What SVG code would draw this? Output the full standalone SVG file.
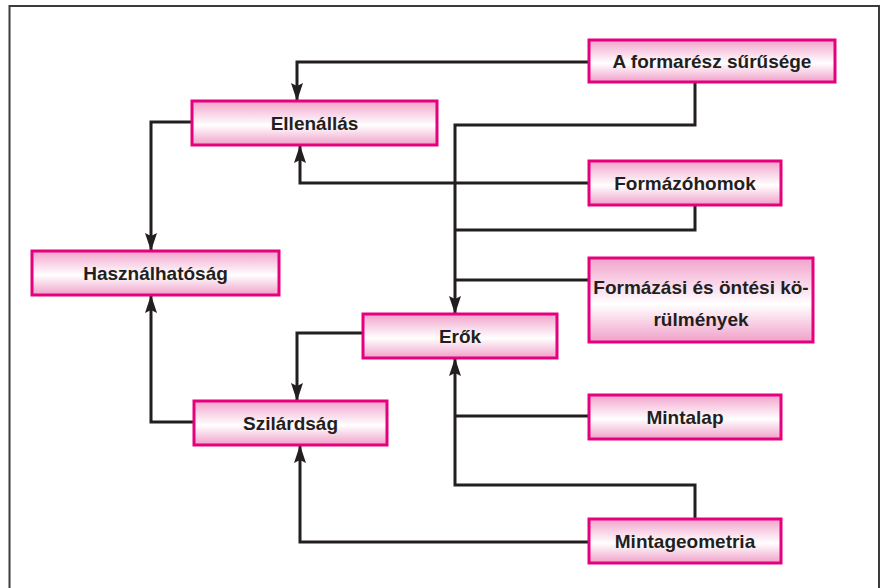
<svg xmlns="http://www.w3.org/2000/svg" width="880" height="588" viewBox="0 0 880 588">
<defs>
<linearGradient id="g" x1="0" y1="0" x2="0" y2="1">
<stop offset="0" stop-color="#f2a3cc"/>
<stop offset="0.55" stop-color="#ffffff"/>
<stop offset="1" stop-color="#f0a0c9"/>
</linearGradient>
<marker id="ar" markerUnits="userSpaceOnUse" markerWidth="20" markerHeight="14" viewBox="-19 -7 20 14" refX="0" refY="0" orient="auto">
<path d="M0,0 L-18,-6 L-15,0 L-18,6 Z" fill="#231f20"/>
</marker>
</defs>
<style>
.box{fill:url(#g);stroke:#e6007e;stroke-width:3}
.t{font-family:"Liberation Sans",Arial,sans-serif;font-weight:bold;font-size:19px;fill:#231f20;text-anchor:middle}
.c{fill:none;stroke:#231f20;stroke-width:3}
.a{marker-end:url(#ar)}
.fr{fill:none;stroke:#3c3c3c;stroke-width:2}
</style>
<path class="fr" d="M9.5,588 V6 H879 V588"/>
<g id="connectors">
<path class="c a" d="M589,62 H297 V101"/>
<path class="c a" d="M695,83 V125 H455 V314"/>
<path class="c a" d="M589,183 H300 V145"/>
<path class="c" d="M695,205 V230 H455"/>
<path class="c" d="M589,280 H455"/>
<path class="c a" d="M192,122 H151 V251"/>
<path class="c a" d="M194,422 H151 V295"/>
<path class="c a" d="M363,333 H297 V401"/>
<path class="c" d="M589,416 H455"/>
<path class="c a" d="M695,518 V485 H455 V358"/>
<path class="c a" d="M589,542 H300 V445"/>
</g>
<g id="n1"><rect class="box" x="589" y="40" width="246" height="42"/><text class="t" x="712" y="68">A formarész sűrűsége</text></g>
<g id="n2"><rect class="box" x="192" y="101" width="245" height="44"/><text class="t" x="314.5" y="130">Ellenállás</text></g>
<g id="n3"><rect class="box" x="589" y="161" width="192" height="44"/><text class="t" x="685" y="190">Formázóhomok</text></g>
<g id="n4"><rect class="box" x="589" y="258" width="224" height="84"/><text class="t" x="701" y="294">Formázási és öntési kö-</text><text class="t" x="701" y="326">rülmények</text></g>
<g id="n5"><rect class="box" x="32" y="251" width="247" height="44"/><text class="t" x="155.5" y="280">Használhatóság</text></g>
<g id="n6"><rect class="box" x="363" y="314" width="194" height="44"/><text class="t" x="460" y="343">Erők</text></g>
<g id="n7"><rect class="box" x="194" y="401" width="193" height="44"/><text class="t" x="290.5" y="430">Szilárdság</text></g>
<g id="n8"><rect class="box" x="589" y="395" width="192" height="44"/><text class="t" x="685" y="424">Mintalap</text></g>
<g id="n9"><rect class="box" x="589" y="519" width="192" height="44"/><text class="t" x="685" y="548">Mintageometria</text></g>
</svg>
